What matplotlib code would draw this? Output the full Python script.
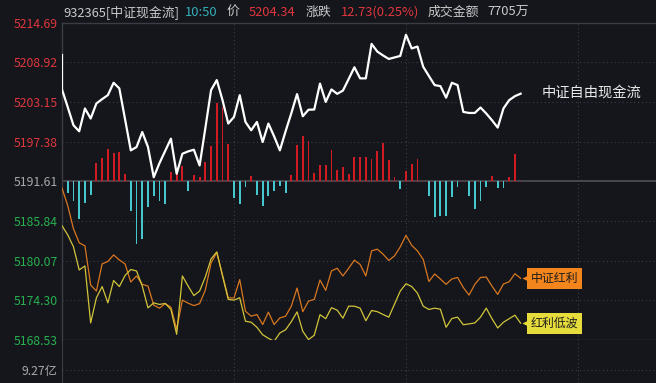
import numpy as np
import matplotlib
matplotlib.use('Agg')
import matplotlib.pyplot as plt
from matplotlib.transforms import offset_copy

plt.rcParams['font.family'] = ['Noto Sans CJK SC', 'DejaVu Sans']

# minute index 0 = 9:30, one value per minute up to 10:50
prev_close = 5191.61
open_auction = 5209.97

cash_flow = [
    5204.96, 5202.38, 5199.75, 5198.87, 5202.19, 5200.73, 5202.92, 5203.55, 5204.13, 5205.93,
    5205.11, 5200.62, 5196.10, 5196.58, 5198.77, 5196.58, 5192.19, 5194.24, 5196.02, 5197.80,
    5192.69, 5195.61, 5195.95, 5196.20, 5193.90, 5199.31, 5204.86, 5206.32, 5203.40, 5200.00,
    5200.96, 5204.13, 5200.23, 5199.02, 5200.23, 5197.31, 5200.00, 5198.14, 5196.10, 5198.87,
    5201.50, 5204.28, 5201.06, 5202.01, 5202.04, 5205.81, 5203.15, 5204.96, 5204.32, 5204.79,
    5206.47, 5208.18, 5206.57, 5206.57, 5211.58, 5210.46, 5209.90, 5209.39, 5209.61, 5209.83,
    5212.90, 5210.92, 5211.19, 5208.26, 5206.91, 5205.59, 5205.44, 5203.76, 5205.93, 5205.59,
    5201.69, 5201.54, 5201.54, 5202.33, 5201.46, 5200.48, 5199.41, 5202.19, 5203.40, 5203.98,
    5204.34]

dividend = [
    5190.62, 5188.06, 5184.70, 5182.66, 5182.22, 5176.52, 5175.64, 5179.59, 5179.95, 5180.90,
    5180.17, 5179.59, 5176.96, 5177.84, 5176.62, 5176.37, 5173.60, 5173.16, 5173.82, 5173.31,
    5170.09, 5174.33, 5173.89, 5173.53, 5173.82, 5175.79, 5179.73, 5181.24, 5177.98, 5174.67,
    5174.62, 5177.32, 5172.72, 5171.99, 5172.24, 5170.78, 5172.58, 5170.78, 5171.74, 5171.99,
    5173.45, 5176.08, 5172.65, 5174.18, 5174.43, 5177.25, 5175.75, 5178.57, 5178.96, 5177.84,
    5178.96, 5180.14, 5179.52, 5177.84, 5181.49, 5181.74, 5181.01, 5180.10, 5180.76, 5182.07,
    5183.75, 5182.29, 5181.49, 5180.25, 5177.03, 5178.13, 5177.40, 5176.62, 5177.40, 5177.62,
    5176.16, 5175.06, 5176.62, 5177.62, 5177.69, 5176.37, 5175.16, 5176.67, 5177.00, 5178.17,
    5177.50]

low_vol = [
    5185.14, 5183.82, 5182.07, 5178.71, 5179.30, 5171.01, 5174.67, 5176.30, 5173.93, 5177.18,
    5176.30, 5177.91, 5178.78, 5178.57, 5176.37, 5173.20, 5173.93, 5173.70, 5173.85, 5172.97,
    5169.36, 5177.84, 5176.37, 5174.99, 5175.64, 5177.69, 5180.32, 5181.34, 5177.84, 5174.43,
    5174.33, 5174.67, 5171.26, 5171.11, 5170.38, 5169.29, 5168.78, 5168.34, 5169.55, 5170.02,
    5171.19, 5172.62, 5169.80, 5168.59, 5169.22, 5172.21, 5171.63, 5173.23, 5172.87, 5171.70,
    5173.45, 5173.45, 5173.16, 5171.33, 5172.82, 5172.65, 5172.24, 5171.85, 5173.74, 5175.64,
    5176.71, 5176.30, 5175.35, 5173.45, 5172.97, 5173.16, 5173.01, 5170.38, 5171.66, 5171.85,
    5170.75, 5170.87, 5171.01, 5171.85, 5173.16, 5171.63, 5170.28, 5171.11, 5171.63, 5172.14,
    5170.97]

# red/cyan bars around the previous close, minutes 1..80
flow_bars = [
    -1.75, -2.82, -5.49, -3.21, -1.94, 2.63, 3.36, 4.63, 4.09, 4.19,
    1.08, -4.38, -9.15, -8.41, -3.80, -2.09, -2.92, -3.36, 1.31, 1.07,
    2.15, -1.46, 0.98, 0.58, 2.78, 5.07, 11.40, 10.81, 5.36, -2.38,
    -3.36, -0.88, 0.73, -2.05, -3.55, -2.19, -1.46, -0.63, -1.75, 0.98,
    5.22, 6.57, 5.84, 1.17, 2.29, 2.29, 4.49, 1.67, 2.05, 1.08,
    3.51, 3.51, 3.51, 3.27, 4.38, 5.61, 3.13, 0.58, -1.11, 1.56,
    2.54, 3.27, 0.00, -2.09, -5.19, -5.07, -5.07, -2.34, -0.77, 0.00,
    -2.19, -4.03, -2.92, -0.80, 0.73, -0.92, -0.92, 0.58, 3.90, 0.00]

y_ticks = [5214.69, 5208.92, 5203.15, 5197.38, 5191.61, 5185.84, 5180.07, 5174.30, 5168.53]
first_volume = 40.0
volume_level = 9.27
volume_label = '9.27亿'

header = ['932365[中证现金流]', '10:50', '价', '5204.34', '涨跌', '12.73(0.25%)', '成交金额', '7705万']

BG = '#14161b'
GRID = '#3b3e46'
RED = '#e0363d'
GREEN = '#27b04f'
GREY_TXT = '#c9c9c9'

W, H = 656, 383
fig = plt.figure(figsize=(W / 100, H / 100), dpi=100, facecolor=BG)

left, right, top, bottom = 62, 656, 22.5, 340
px_per_min = 5.733
ax = fig.add_axes([left / W, 1 - bottom / H, (right - left) / W, (bottom - top) / H])
ax.set_facecolor(BG)
ax.set_xlim(0, (right - left) / px_per_min)
ax.set_ylim(y_ticks[-1], y_ticks[0])

minutes = np.arange(len(cash_flow))
bar_minutes = np.arange(1, len(flow_bars) + 1)

# grid
for v in y_ticks[1:-1]:
    if v == prev_close:
        continue
    ax.axhline(v, color=GRID, lw=0.8, ls=(0, (1, 2.5)), zorder=0)
for m in (30, 60, 90):
    ax.axvline(m, color=GRID, lw=0.8, ls=(0, (1, 2.5)), zorder=0)
ax.axhline(prev_close, color='#4d5058', lw=1.2, zorder=1)
ax.plot([0, minutes[-1]], [prev_close, prev_close], color='#7a1f25', lw=0.9,
        ls=(0, (1, 2)), zorder=1)

bars = np.array(flow_bars)
ax.bar(bar_minutes, bars, bottom=prev_close, width=0.32, linewidth=0,
       color=np.where(bars >= 0, '#d01b23', '#46c6cd'), zorder=2)

ax.plot(minutes, dividend, color='#d8771f', lw=0.9, zorder=3)
ax.plot(minutes, low_vol, color='#d2c43a', lw=0.9, zorder=3)
ax.plot(np.r_[0, minutes], np.r_[open_auction, cash_flow], color='white', lw=1.6, zorder=4)

ax.annotate('中证自由现金流', xy=(minutes[-1], cash_flow[-1]), xytext=(21, 1),
            textcoords='offset pixels', color='#e8e8e8', fontsize=10.3, va='center', ha='left')

for series, label, color in [(dividend, '中证红利', '#f2861d'), (low_vol, '红利低波', '#e6dc3b')]:
    ax.annotate(label, xy=(minutes[-1], series[-1]), xytext=(10, 0), textcoords='offset pixels',
                ha='left', va='center', fontsize=8.6, color='#1c1c1c',
                bbox=dict(boxstyle='square,pad=0.32', fc=color, ec='none'))
    tr = offset_copy(ax.transData, fig=fig, x=5, y=0, units='dots')
    ax.plot(minutes[-1], series[-1], marker='<', ms=6, color=color, mec='none',
            transform=tr, clip_on=False, zorder=5)

ax.set_yticks(y_ticks)
ax.set_yticklabels([f'{v:.2f}' for v in y_ticks], fontsize=8.8)
for lab, v in zip(ax.get_yticklabels(), y_ticks):
    lab.set_color(RED if v > prev_close else (GREEN if v < prev_close else '#a9a9a9'))
ax.set_xticks([])
ax.tick_params(axis='y', length=0, pad=3)
ax.spines['right'].set_visible(False)
for side in ('top', 'bottom', 'left'):
    ax.spines[side].set_color('#3a3d44')
    ax.spines[side].set_linewidth(1)

# volume pane below
vax = fig.add_axes([left / W, 0, (right - left) / W, 1 - bottom / H])
vax.set_facecolor(BG)
vax.set_xlim(ax.get_xlim())
vax.set_ylim(0, 30)
vax.axhline(volume_level, color=GRID, lw=0.8, ls=(0, (1, 2.5)), zorder=0)
for m in (30, 60, 90):
    vax.axvline(m, color=GRID, lw=0.8, ls=(0, (1, 2.5)), zorder=0)
vax.bar([0], [first_volume], width=0.3, color='#d01b23', linewidth=0)
vax.set_yticks([volume_level])
vax.set_yticklabels([volume_label], fontsize=8.8, color='#a9a9a9')
vax.set_xticks([])
vax.tick_params(axis='y', length=0, pad=3)
for side in ('top', 'right', 'bottom'):
    vax.spines[side].set_visible(False)
vax.spines['left'].set_color('#3a3d44')

# header row
header_x = [63, 185, 227, 249, 306, 341, 428, 487]
header_c = [GREY_TXT, '#35b0bb', GREY_TXT, RED, GREY_TXT, RED, GREY_TXT, GREY_TXT]
for txt, x, c in zip(header, header_x, header_c):
    fig.text(x / W, 1 - 12.5 / H, txt, color=c, fontsize=9.3, va='center', ha='left')

plt.savefig('out.png', dpi=100, facecolor=BG)
